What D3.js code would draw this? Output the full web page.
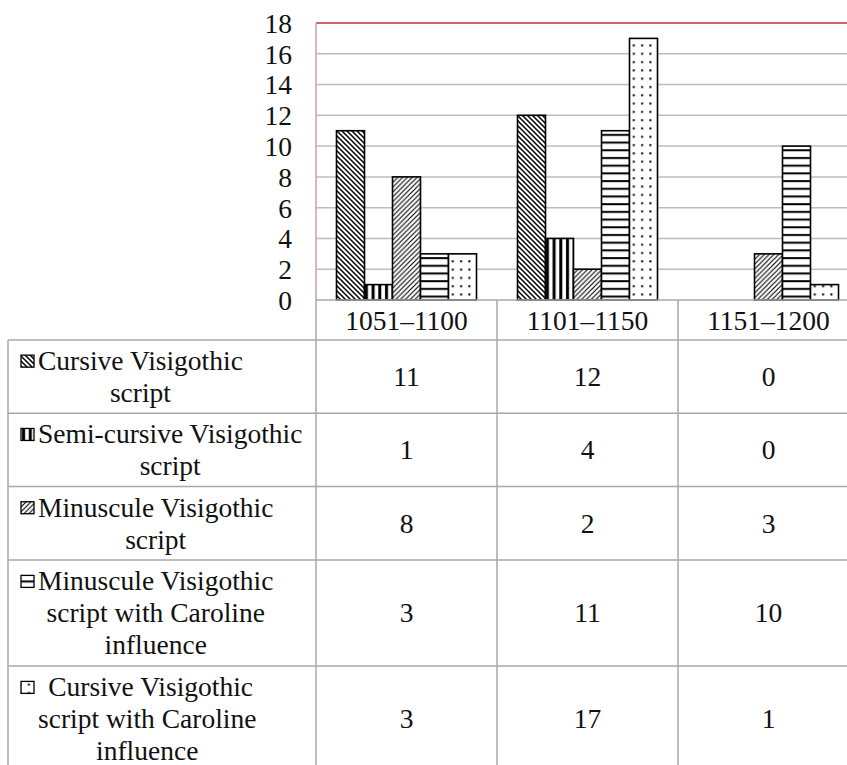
<!DOCTYPE html>
<html>
<head>
<meta charset="utf-8">
<script src="https://cdn.jsdelivr.net/npm/d3@7/dist/d3.min.js"></script>
<style>
  html, body { margin: 0; padding: 0; background: #fff; }
  svg { display: block; }
</style>
</head>
<body>
<svg id="chart" width="847" height="765"></svg>
<script>
// ---- data ----
const categories = ["1051–1100", "1101–1150", "1151–1200"];
const seriesKeys = ["cursive", "semiCursive", "minuscule", "minusculeCaroline", "cursiveCaroline"];
const cursive = [11, 12, 0];
const semiCursive = [1, 4, 0];
const minuscule = [8, 2, 3];
const minusculeCaroline = [3, 11, 10];
const cursiveCaroline = [3, 17, 1];
const seriesLabels = [
  ["Cursive Visigothic", "script"],
  ["Semi-cursive Visigothic", "script"],
  ["Minuscule Visigothic", "script"],
  ["Minuscule Visigothic", "script with Caroline", "influence"],
  [" Cursive Visigothic", "script with Caroline", "influence"]
];
const yTicks = [0, 2, 4, 6, 8, 10, 12, 14, 16, 18];

const seriesValues = [cursive, semiCursive, minuscule, minusculeCaroline, cursiveCaroline];
const rows = seriesKeys.map((k, i) => ({ key: k, values: seriesValues[i], label: seriesLabels[i] }));

// ---- layout ----
const svg = d3.select("#chart");
const FONT = "'Liberation Serif'";
const plotLeft = 316, plotTop = 23, plotBottom = 300;
const catStep = 181;
const plotRight = plotLeft + catStep * categories.length;
const fontSize = 27.5;
const lineH = 32;

const x = d3.scaleBand().domain(categories).range([plotLeft, plotRight]).paddingInner(0).paddingOuter(0);
const xs = d3.scaleBand().domain(seriesKeys).range([0, x.bandwidth()]).paddingInner(0).paddingOuter(0.732);
const y = d3.scaleLinear().domain([0, 18]).range([plotBottom, plotTop]);

function styleText(sel) {
  return sel.attr("font-family", FONT).attr("font-size", fontSize).attr("fill", "#111");
}

// ---- patterns ----
const defs = svg.append("defs");
function pat(id, w, h, build) {
  const p = defs.append("pattern").attr("id", id).attr("patternUnits", "userSpaceOnUse")
    .attr("width", w).attr("height", h);
  p.append("rect").attr("width", w).attr("height", h).attr("fill", "#fff");
  build(p, w, h);
}
pat("p-cursive", 5, 5, (p, s) => {
  p.append("path").attr("d", `M${-s},0 L${2*s},${3*s} M0,${-s} L${2*s},${s} M${-s},${-s} L${s},${s} M${-2*s},${-s} L${s},${2*s}`)
    .attr("stroke", "#000").attr("stroke-width", 1.5);
});
pat("p-semiCursive", 6.7, 10, (p) => {
  p.append("rect").attr("x", 2).attr("y", 0).attr("width", 3).attr("height", 10).attr("fill", "#000");
});
pat("p-minuscule", 4.8, 4.8, (p, s) => {
  p.append("path").attr("d", `M${-s},${s} L${s},${-s} M0,${2*s} L${2*s},0 M${-s},${2*s} L${2*s},${-s}`)
    .attr("stroke", "#000").attr("stroke-width", 1.1);
});
pat("p-minusculeCaroline", 10, 7.7, (p) => {
  p.append("rect").attr("x", 0).attr("y", 3).attr("width", 10).attr("height", 2).attr("fill", "#000");
});
pat("p-cursiveCaroline", 8.3, 8.3, (p) => {
  p.append("rect").attr("x", 3).attr("y", 3).attr("width", 2).attr("height", 2).attr("fill", "#000");
});

// ---- gridlines ----
const gridG = svg.append("g");
gridG.selectAll("line").data(yTicks.filter(t => t > 0 && t < 18)).join("line")
  .attr("x1", plotLeft).attr("x2", plotRight)
  .attr("y1", d => y(d)).attr("y2", d => y(d))
  .attr("stroke", "#bdbdbd").attr("stroke-width", 1.5);
svg.append("line").attr("x1", plotLeft).attr("x2", plotRight).attr("y1", y(18)).attr("y2", y(18))
  .attr("stroke", "#b23a3a").attr("stroke-width", 1.3);
svg.append("line").attr("x1", plotLeft).attr("x2", plotLeft).attr("y1", y(18)).attr("y2", y(0))
  .attr("stroke", "#c7a3a3").attr("stroke-width", 1.5);

// ---- y-axis labels ----
const yAxis = d3.axisLeft(y).tickValues(yTicks).tickSize(0).tickPadding(24);
const yG = svg.append("g").attr("transform", `translate(${plotLeft},0)`).call(yAxis)
  .attr("font-family", FONT).attr("font-size", fontSize);
yG.select(".domain").remove();
yG.selectAll("text").call(styleText).attr("dy", "0.34em");

// ---- bars ----
const groups = svg.append("g").selectAll("g").data(categories).join("g")
  .attr("transform", d => `translate(${x(d)},0)`);
groups.selectAll("rect")
  .data((c, ci) => rows.map(r => ({ key: r.key, v: r.values[ci] })).filter(d => d.v > 0))
  .join("rect")
  .attr("x", d => xs(d.key))
  .attr("width", xs.bandwidth())
  .attr("y", d => y(d.v))
  .attr("height", d => y(0) - y(d.v))
  .attr("fill", d => `url(#p-${d.key})`)
  .attr("stroke", "#000").attr("stroke-width", 1.6);

// ---- data table ----
const tableLeft = 8;
const catRowBottom = 340;
const rowHeights = rows.map(r => r.label.length === 3 ? 106 : 73.3);
const rowTops = [];
let acc = catRowBottom;
rowHeights.forEach(h => { rowTops.push(acc); acc += h; });
const tableBottom = acc;

const lineColor = "#a8a8a8";
const tg = svg.append("g");
tg.append("line").attr("x1", plotLeft).attr("x2", plotRight).attr("y1", y(0)).attr("y2", y(0))
  .attr("stroke", lineColor).attr("stroke-width", 1.5);
tg.selectAll("line.h").data(rowTops).join("line").attr("class", "h")
  .attr("x1", tableLeft).attr("x2", plotRight)
  .attr("y1", d => d).attr("y2", d => d)
  .attr("stroke", lineColor).attr("stroke-width", 1.5);
const vx = categories.map(c => x(c));
tg.selectAll("line.v").data(vx).join("line").attr("class", "v")
  .attr("x1", d => d).attr("x2", d => d)
  .attr("y1", y(0)).attr("y2", tableBottom)
  .attr("stroke", lineColor).attr("stroke-width", 1.5);
tg.append("line").attr("x1", tableLeft).attr("x2", tableLeft).attr("y1", catRowBottom).attr("y2", tableBottom)
  .attr("stroke", lineColor).attr("stroke-width", 1.5);

// category labels
svg.append("g").selectAll("text").data(categories).join("text")
  .call(styleText)
  .attr("x", d => x(d) + x.bandwidth() / 2)
  .attr("y", (y(0) + catRowBottom) / 2 + 9.5)
  .attr("text-anchor", "middle")
  .text(d => d);

// row labels + values
rows.forEach((r, i) => {
  const top = rowTops[i], h = rowHeights[i];
  const center = top + h / 2;
  const n = r.label.length;
  const firstBase = center - (n - 1) * lineH / 2 + 9.5;
  const g = svg.append("g");
  const textLeft = 38;
  const texts = g.selectAll("text.lbl").data(r.label).join("text").attr("class", "lbl")
    .call(styleText)
    .attr("xml:space", "preserve")
    .style("white-space", "pre")
    .attr("y", (d, j) => firstBase + j * lineH)
    .text(d => d);
  let maxW = 0;
  texts.each(function () { maxW = Math.max(maxW, this.getComputedTextLength()); });
  texts.attr("x", textLeft + maxW / 2).attr("text-anchor", "middle");
  g.append("rect").attr("x", 21).attr("y", firstBase - 15).attr("width", 13).attr("height", 12)
    .attr("fill", `url(#p-${r.key})`).attr("stroke", "#000").attr("stroke-width", 1.3);
  g.selectAll("text.val").data(r.values).join("text").attr("class", "val")
    .call(styleText)
    .attr("x", (d, ci) => x(categories[ci]) + x.bandwidth() / 2)
    .attr("y", center + 9.5)
    .attr("text-anchor", "middle")
    .text(d => d);
});
</script>
</body>
</html>
